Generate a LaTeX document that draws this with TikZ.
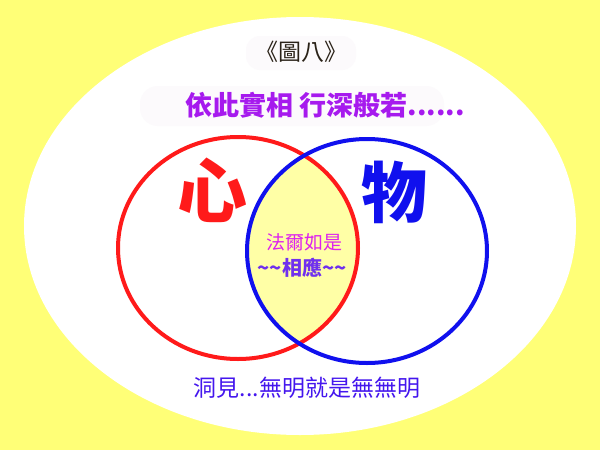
\documentclass[tikz,border=0pt]{standalone}
\usepackage{fontspec}
\setmainfont{Noto Sans CJK TC}
\newfontfamily\cjk{Noto Sans CJK TC}
\definecolor{bgyellow}{HTML}{FFFF77}
\definecolor{lensyellow}{HTML}{FFFFA6}
\definecolor{xinred}{HTML}{FF1A1A}
\definecolor{wublue}{HTML}{1010EE}
\definecolor{titlepurple}{HTML}{A61AEE}
\definecolor{magentatext}{HTML}{DD22EE}
\definecolor{violettext}{HTML}{7030EE}
\definecolor{bottomblue}{HTML}{4416EE}
\definecolor{blobgray}{HTML}{FCFAFC}
\definecolor{darktitle}{HTML}{2A2218}
\tikzset{
  ring/.style={line width=4pt},
  txt/.style={inner sep=0pt, anchor=center},
}
\begin{document}
\begin{tikzpicture}[x=1pt,y=-1pt]
\useasboundingbox (0,0) rectangle (600,450);
\fill[bgyellow] (0,0) rectangle (600,450);
\fill[white] (300,226) ellipse [x radius=276, y radius=209];
% faint blobs behind titles
\fill[blobgray, rounded corners=14pt] (246,36) rectangle (356,70);
\fill[blobgray, rounded corners=18pt] (140,86) rectangle (444,126);
% lens
\begin{scope}
  \clip (238,248) ellipse [x radius=120, y radius=111];
  \fill[lensyellow] (367,251) ellipse [x radius=120, y radius=112];
\end{scope}
\draw[ring, xinred] (238,248) ellipse [x radius=120, y radius=111];
\draw[ring, wublue] (367,251) ellipse [x radius=120, y radius=112];
% texts
\node[txt, text=darktitle, font=\cjk\fontsize{23}{26}\selectfont] (fig) at (301,52) {《圖八》};
\node[txt, text=titlepurple, font=\cjk\bfseries\fontsize{27}{30}\selectfont] (head) at (325,105) {依此實相 行深般若......};
\node[txt, text=xinred, font=\cjk\bfseries\fontsize{70}{80}\selectfont] (xin) at (212,190) {心};
\node[txt, text=wublue, font=\cjk\bfseries\fontsize{66}{76}\selectfont] (wu) at (394,192) {物};
\node[txt, text=magentatext, font=\cjk\fontsize{19}{22}\selectfont] (fa) at (304,242) {法爾如是};
\node[txt, text=violettext, font=\cjk\bfseries\fontsize{20}{23}\selectfont] (xy) at (302,268) {\textasciitilde\textasciitilde 相應\textasciitilde\textasciitilde};
\node[txt, text=bottomblue, font=\cjk\fontsize{23}{26}\selectfont] (bottom) at (307,388) {洞見...無明就是無無明};
\end{tikzpicture}
\end{document}
